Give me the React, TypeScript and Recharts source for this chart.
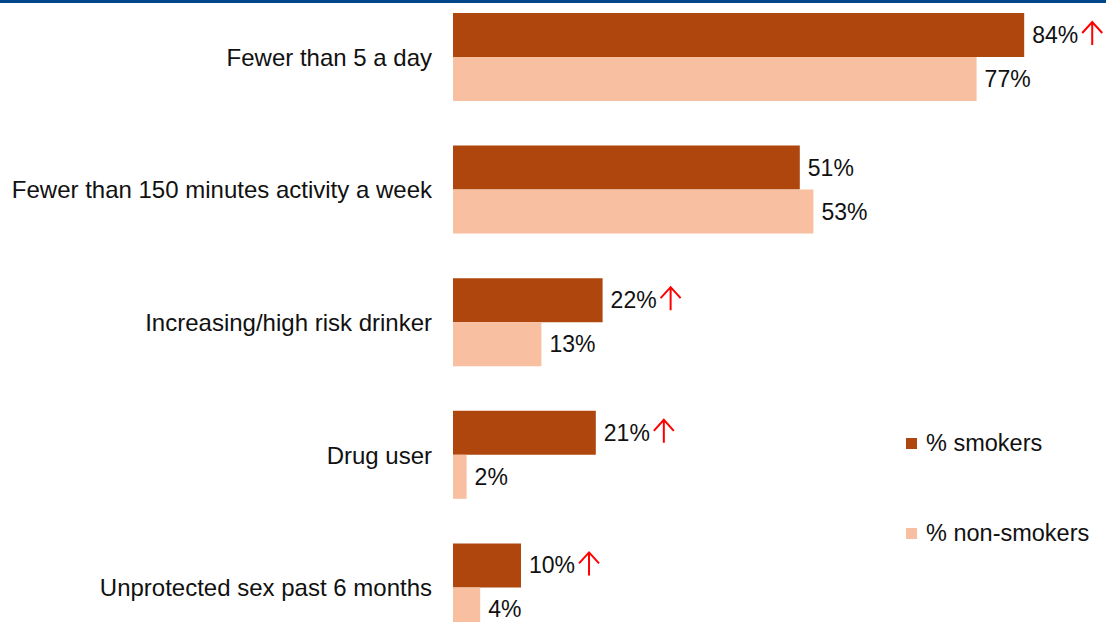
import React from "react";
import { BarChart, Bar, XAxis, YAxis, LabelList } from "recharts";

const categories = [
  "Fewer than 5 a day",
  "Fewer than 150 minutes activity a week",
  "Increasing/high risk drinker",
  "Drug user",
  "Unprotected sex past 6 months",
];
const smokers = [84, 51, 22, 21, 10];
const nonSmokers = [77, 53, 13, 2, 4];
// smokers significantly higher -> red up arrow
const higher = [true, false, true, true, true];

const seriesNames = ["% smokers", "% non-smokers"];
const colors = ["#AE460D", "#F8BFA0"];

const data = categories.map((name, i) => ({
  name,
  smokers: smokers[i],
  nonSmokers: nonSmokers[i],
}));

const FONT = "'Liberation Sans', Arial, sans-serif";
const VAL_SIZE = 23;

const textWidth = (s: string) =>
  s.split("").reduce((w, c) => w + (c === "%" ? 0.889 : 0.556), 0) * VAL_SIZE;

const CategoryTick = (props: any) => {
  const { x, y, payload } = props;
  return (
    <text
      x={x - 13}
      y={y}
      textAnchor="end"
      dominantBaseline="central"
      fontSize={24}
      fontFamily={FONT}
      fill="#111"
    >
      {payload.value}
    </text>
  );
};

const makeLabel = (withArrow: boolean) => (props: any) => {
  const { x, y, width, height, value, index } = props;
  const label = `${value}%`;
  const tx = x + width + 8;
  const cy = y + height / 2;
  const ax = tx + textWidth(label) + 14;
  const showArrow = withArrow && higher[index];
  return (
    <g>
      <text
        x={tx}
        y={cy}
        dominantBaseline="central"
        fontSize={VAL_SIZE}
        fontFamily={FONT}
        fill="#111"
      >
        {label}
      </text>
      {showArrow && (
        <path
          d={`M${ax},${cy + 10} L${ax},${cy - 13} M${ax - 10},${cy - 2} L${ax},${cy - 13} L${ax + 10},${cy - 2}`}
          stroke="#FF0000"
          strokeWidth={2}
          fill="none"
        />
      )}
    </g>
  );
};

const LegendBox = () => (
  <div
    style={{
      position: "absolute",
      left: 906,
      top: 428,
      fontFamily: FONT,
      fontSize: 23.5,
      color: "#111",
    }}
  >
    {seriesNames.map((n, i) => (
      <div
        key={n}
        style={{ display: "flex", alignItems: "center", height: 30, marginBottom: i === 0 ? 60 : 0 }}
      >
        <span
          style={{ width: 11, height: 11, background: colors[i], display: "inline-block", marginRight: 9 }}
        />
        <span>{n}</span>
      </div>
    ))}
  </div>
);

export default function App() {
  return (
    <div
      style={{
        position: "fixed",
        left: 0,
        top: 0,
        width: 1106,
        height: 622,
        overflow: "hidden",
        background: "#fff",
      }}
    >
      <div style={{ position: "absolute", left: 0, top: 0, width: 1106, height: 3, background: "#00468B", zIndex: 2 }} />
      <div style={{ position: "absolute", left: 0, top: -9 }}>
        <BarChart
          width={1106}
          height={663}
          data={data}
          layout="vertical"
          margin={{ top: 0, right: 41, bottom: 0, left: 0 }}
          barGap={0}
          barCategoryGap={22}
        >
          <XAxis type="number" domain={[0, 90]} hide />
          <YAxis
            type="category"
            dataKey="name"
            width={453}
            axisLine={false}
            tickLine={false}
            tick={<CategoryTick />}
            interval={0}
          />
          <Bar dataKey="smokers" name={seriesNames[0]} fill={colors[0]} isAnimationActive={false}>
            <LabelList dataKey="smokers" content={makeLabel(true)} />
          </Bar>
          <Bar dataKey="nonSmokers" name={seriesNames[1]} fill={colors[1]} isAnimationActive={false}>
            <LabelList dataKey="nonSmokers" content={makeLabel(false)} />
          </Bar>
        </BarChart>
      </div>
      <LegendBox />
    </div>
  );
}
